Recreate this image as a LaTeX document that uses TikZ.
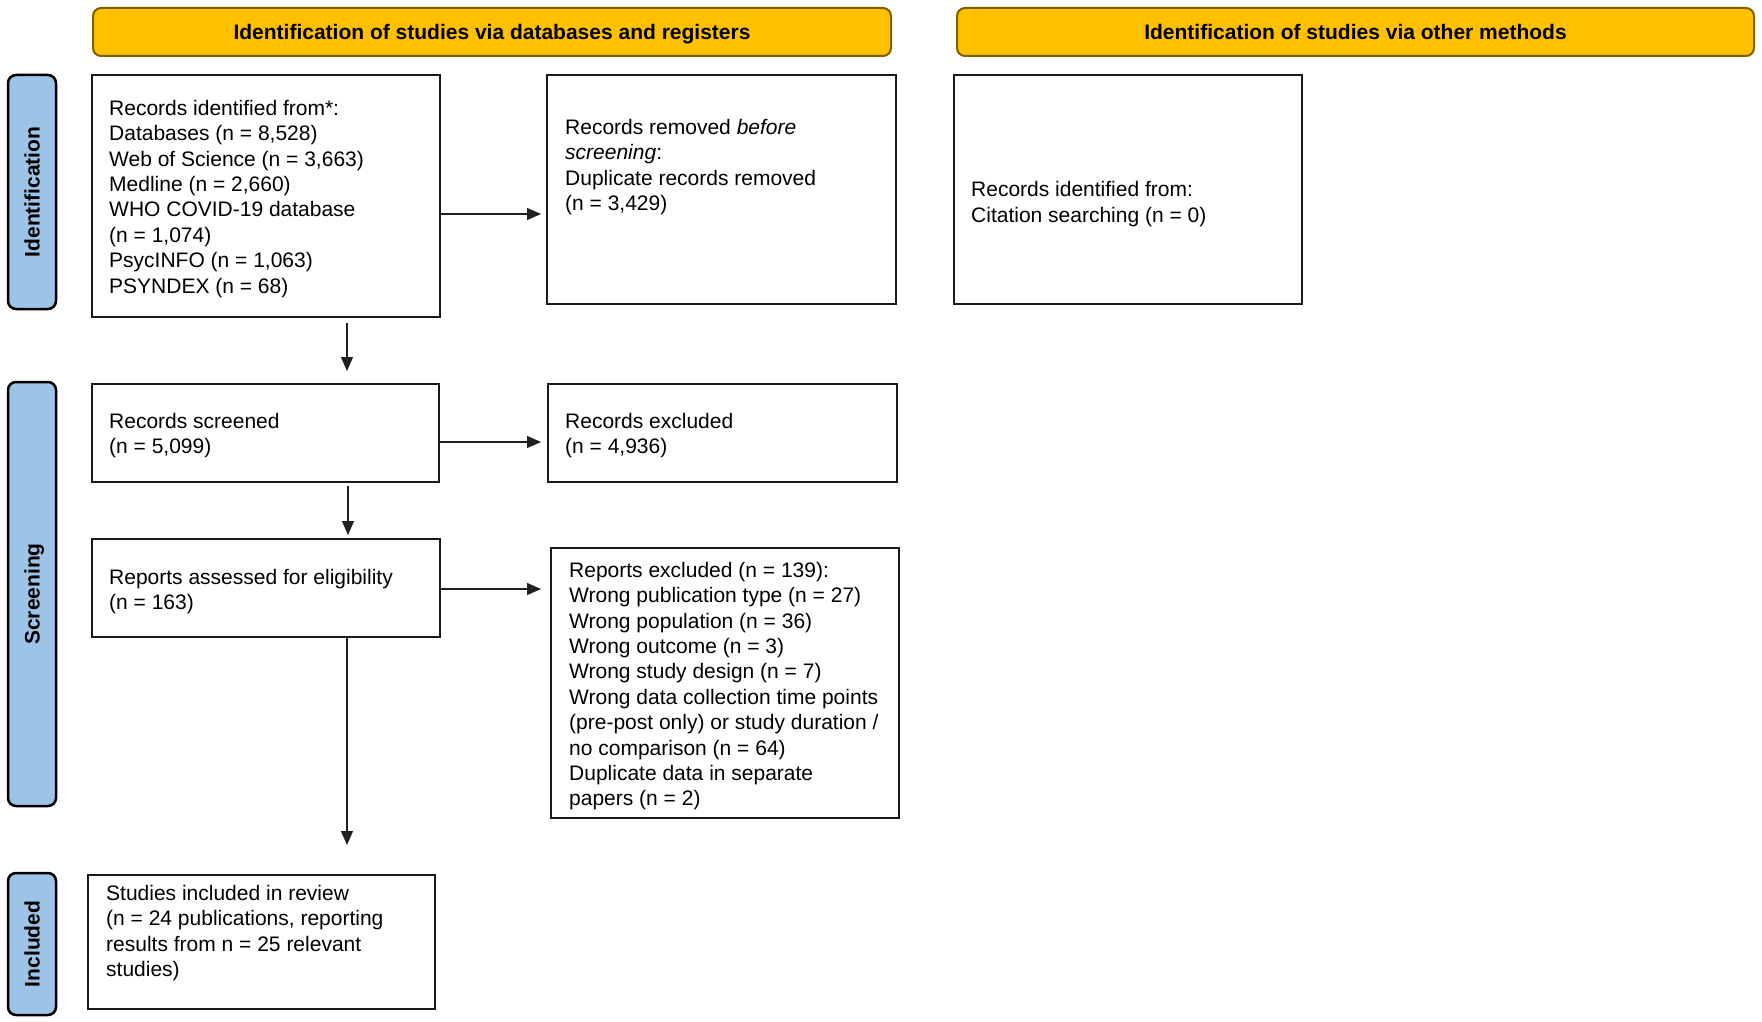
\documentclass[tikz,border=0pt]{standalone}
\usepackage{fontspec}
\setmainfont{Liberation Sans}
\usetikzlibrary{arrows.meta}
\definecolor{hdrfill}{HTML}{FFC000}
\definecolor{hdrline}{HTML}{7F6000}
\definecolor{sidefill}{HTML}{9DC3E6}
\definecolor{boxline}{HTML}{1A1A1A}
\definecolor{arrline}{HTML}{202020}
\tikzset{
  hdr/.style={draw=hdrline, line width=2pt, fill=hdrfill, rounded corners=8pt, inner sep=0pt},
  hdrtxt/.style={inner sep=0pt, text height=15pt, text depth=0pt, font=\fontsize{21}{25.4}\selectfont\bfseries},
  side/.style={draw=black, line width=2.5pt, fill=sidefill, rounded corners=8pt, inner sep=0pt},
  sidetxt/.style={rotate=90, inner sep=0pt, text height=15pt, text depth=0pt, font=\fontsize{21}{25.4}\selectfont\bfseries},
  flowbox/.style={draw=boxline, line width=2pt, inner sep=0pt},
  txt/.style={anchor=north west, inner sep=0pt, align=left, font=\fontsize{21}{25.4}\selectfont},
  arr/.style={draw=arrline, line width=1.3pt, -{Triangle[length=14pt,width=12pt]}}
}
\newcommand{\fs}{\rule{0pt}{16pt}}
\begin{document}
\begin{tikzpicture}[x=1pt, y=-1pt]
\useasboundingbox (0,0) rectangle (1762,1022);
\fill[white] (0,0) rectangle (1762,1022);
% headers
\node[hdr, minimum width=798pt, minimum height=48pt] (h1) at (492,32) {};
\node[hdrtxt] (h1t) at (h1.center) {Identification of studies via databases and registers};
\node[hdr, minimum width=797pt, minimum height=48pt] (h2) at (1355.5,32) {};
\node[hdrtxt] (h2t) at (h2.center) {Identification of studies via other methods};
% side labels
\node[side, minimum width=48pt, minimum height=234pt] (s1) at (32,192) {};
\node[sidetxt] (s1t) at (s1.center) {Identification};
\node[side, minimum width=48pt, minimum height=424pt] (s2) at (32,594) {};
\node[sidetxt] (s2t) at (s2.center) {Screening};
\node[side, minimum width=48pt, minimum height=142pt] (s3) at (32,944) {};
\node[sidetxt] (s3t) at (s3.center) {Included};
% boxes
\node[flowbox, minimum width=348pt, minimum height=242pt] (b1) at (266,196) {};
\node[flowbox, minimum width=349pt, minimum height=229pt] (rem) at (721.5,189.5) {};
\node[flowbox, minimum width=348pt, minimum height=229pt] (oth) at (1128,189.5) {};
\node[flowbox, minimum width=347pt, minimum height=98pt] (scr) at (265.5,433) {};
\node[flowbox, minimum width=349pt, minimum height=98pt] (exc) at (722.5,433) {};
\node[flowbox, minimum width=348pt, minimum height=98pt] (rep) at (266,588) {};
\node[flowbox, minimum width=348pt, minimum height=270pt] (rex) at (725,683) {};
\node[flowbox, minimum width=347pt, minimum height=134pt] (inc) at (261.5,942) {};
% texts
\node[txt] (t1) at (109,99) {\fs Records identified from*:\\Databases (n = 8,528)\\Web of Science (n = 3,663)\\Medline (n = 2,660)\\WHO COVID-19 database\\(n = 1,074)\\PsycINFO (n = 1,063)\\PSYNDEX (n = 68)};
\node[txt] (trem) at (565,118) {\fs Records removed \textit{before}\\\textit{screening}:\\Duplicate records removed\\(n = 3,429)};
\node[txt] (toth) at (971,180.5) {\fs Records identified from:\\Citation searching (n = 0)};
\node[txt] (tscr) at (109,412) {\fs Records screened\\(n = 5,099)};
\node[txt] (texc) at (565,412) {\fs Records excluded\\(n = 4,936)};
\node[txt] (trep) at (109,568) {\fs Reports assessed for eligibility\\(n = 163)};
\node[txt] (trex) at (569,561) {\fs Reports excluded (n = 139):\\Wrong publication type (n = 27)\\Wrong population (n = 36)\\Wrong outcome (n = 3)\\Wrong study design (n = 7)\\Wrong data collection time points\\(pre-post only) or study duration /\\no comparison (n = 64)\\Duplicate data in separate\\papers (n = 2)};
\node[txt] (tinc) at (106,884) {\fs Studies included in review\\(n = 24 publications, reporting\\results from n = 25 relevant\\studies)};
% connectors
\coordinate (y1) at (0,214);
\coordinate (y3) at (0,442);
\coordinate (y5) at (0,589);
\coordinate (xv) at (347,0);
\coordinate (xv2) at (348,0);
\draw[arr, shorten >=5pt] (b1.east |- y1) -- (rem.west |- y1);
\draw[arr, shorten <=5pt, shorten >=12pt] (b1.south -| xv) -- (scr.north -| xv);
\draw[arr, shorten >=6pt] (scr.east |- y3) -- (exc.west |- y3);
\draw[arr, shorten <=3pt, shorten >=3pt] (scr.south -| xv2) -- (rep.north -| xv2);
\draw[arr, shorten >=9pt] (rep.east |- y5) -- (rex.west |- y5);
\draw[arr, shorten >=29pt] (rep.south -| xv) -- (inc.north -| xv);
\end{tikzpicture}
\end{document}
